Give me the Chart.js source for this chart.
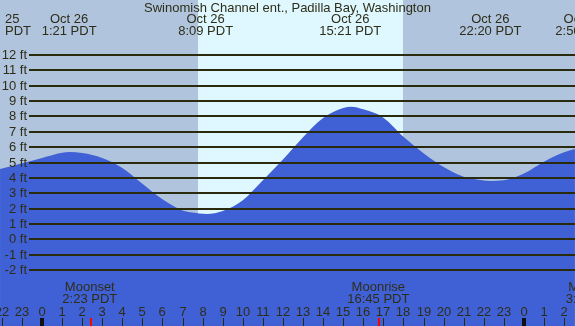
<!DOCTYPE html>
<html>
<head>
<meta charset="utf-8">
<script src="https://cdn.jsdelivr.net/npm/chart.js@4"></script>
<style>
  body { margin: 0; background: #b0c4de; }
  canvas { display: block; }
</style>
</head>
<body>
<canvas id="tideChart" width="575" height="326"></canvas>
<script>
// tide curve (hours from Oct 26 00:00, feet)
const tideHours = [-2.09, -1, 0, 1, 1.37, 2, 3, 4, 5, 6, 7, 7.5, 8.2, 9, 10, 11, 12, 13, 14, 15, 15.4, 16, 17, 18, 19, 20, 21, 22, 22.35, 23, 24, 25, 26, 26.54];
const tideFeet = [4.57, 4.95, 5.3, 5.64, 5.68, 5.62, 5.3, 4.65, 3.62, 2.6, 1.88, 1.74, 1.65, 1.85, 2.55, 3.85, 5.2, 6.65, 7.9, 8.55, 8.63, 8.46, 7.92, 6.68, 5.6, 4.7, 4.07, 3.83, 3.8, 3.84, 4.28, 5.05, 5.66, 5.88];

// high / low labels along the top
const extremeHours = [1.35, 8.15, 15.35, 22.33, 26.93];
const extremeDays = ["Oct 26", "Oct 26", "Oct 26", "Oct 26", "Oct 27"];
const extremeTimes = ["1:21 PDT", "8:09 PDT", "15:21 PDT", "22:20 PDT", "2:56 PDT"];

// moon events along the bottom
const moonHours = [2.38, 16.75, 27.45];
const moonNames = ["Moonset", "Moonrise", "Moonset"];
const moonTimes = ["2:23 PDT", "16:45 PDT", "3:27 PDT"];

const sunrise = 7.77;
const sunset = 17.98;

const feetTicks = [-2, -1, 0, 1, 2, 3, 4, 5, 6, 7, 8, 9, 10, 11, 12];
const hourTicks = [-2, -1, 0, 1, 2, 3, 4, 5, 6, 7, 8, 9, 10, 11, 12, 13, 14, 15, 16, 17, 18, 19, 20, 21, 22, 23, 24, 25, 26];

const title = "Swinomish Channel ent., Padilla Bay, Washington";

const FONT = '13px "Liberation Sans", Arial, sans-serif';
const TEXT = "#2e2e18";
const LINE = "#2a2a0c";

const backdrop = {
    id: "backdrop",
    beforeDraw(chart) {
        const { ctx, chartArea, scales } = chart;
        const x = scales.x;
        ctx.save();
        ctx.fillStyle = "#b0c4de";
        ctx.fillRect(0, 0, chart.width, chart.height);
        ctx.fillStyle = "#dff8ff";
        const x0 = Math.round(x.getPixelForValue(sunrise));
        const x1 = Math.round(x.getPixelForValue(sunset));
        ctx.fillRect(x0, chartArea.top, x1 - x0, chartArea.bottom - chartArea.top);
        ctx.restore();
    },
};

const overlay = {
    id: "overlay",
    afterDatasetsDraw(chart) {
        const { ctx, scales } = chart;
        const x = scales.x;
        const y = scales.y;
        ctx.save();
        ctx.font = FONT;
        ctx.textBaseline = "middle";

        // grid lines + foot labels
        feetTicks.forEach((ft) => {
            const py = Math.round(y.getPixelForValue(ft));
            ctx.fillStyle = LINE;
            ctx.fillRect(29, py - 1, chart.width - 29, 2);
            ctx.fillStyle = TEXT;
            ctx.textAlign = "right";
            ctx.fillText(ft + " ft", 27, py);
        });

        // title
        ctx.textAlign = "center";
        ctx.fillStyle = TEXT;
        ctx.fillText(title, chart.width / 2, 8);

        // clipped label of the previous extreme
        ctx.textAlign = "left";
        ctx.fillText("25", 5, 19);
        ctx.fillText("PDT", 5, 31);

        ctx.textAlign = "center";
        extremeHours.forEach((h, i) => {
            const px = x.getPixelForValue(h);
            ctx.fillText(extremeDays[i], px, 19);
            ctx.fillText(extremeTimes[i], px, 31);
        });

        // moon labels
        moonHours.forEach((h, i) => {
            const px = x.getPixelForValue(h);
            ctx.fillStyle = TEXT;
            ctx.fillText(moonNames[i], px, 287);
            ctx.fillText(moonTimes[i], px, 299);
        });

        // hour labels and ticks
        hourTicks.forEach((h) => {
            const px = Math.round(x.getPixelForValue(h));
            const label = ((h % 24) + 24) % 24;
            ctx.fillStyle = TEXT;
            ctx.fillText(String(label), px, 312);
            if (label === 0) {
                ctx.fillStyle = "#111";
                ctx.fillRect(px - 2, 318, 4, 8);
            } else {
                ctx.fillStyle = LINE;
                ctx.fillRect(px, 318, 1, 8);
            }
        });

        moonHours.forEach((h) => {
            const px = Math.round(x.getPixelForValue(h));
            ctx.fillStyle = "#ff0000";
            ctx.fillRect(px, 318, 2, 8);
        });

        ctx.restore();
    },
};

const ctx = document.getElementById("tideChart").getContext("2d");

const tideChart = new Chart(ctx, {
    type: "line",
    data: {
        datasets: [
            {
                label: "Tide (ft)",
                data: tideHours.map((h, i) => ({ x: h, y: tideFeet[i] })),
                fill: "start",
                backgroundColor: "#4060d6",
                borderWidth: 0,
                pointRadius: 0,
                cubicInterpolationMode: "monotone",
            },
        ],
    },
    options: {
        responsive: false,
        animation: false,
        devicePixelRatio: 1,
        layout: { padding: 0 },
        plugins: {
            legend: { display: false },
            tooltip: { enabled: false },
        },
        scales: {
            x: { type: "linear", min: -2.092, max: 26.544, display: false },
            y: { type: "linear", min: -5.645, max: 15.58, display: false },
        },
    },
    plugins: [backdrop, overlay],
});
</script>
</body>
</html>
